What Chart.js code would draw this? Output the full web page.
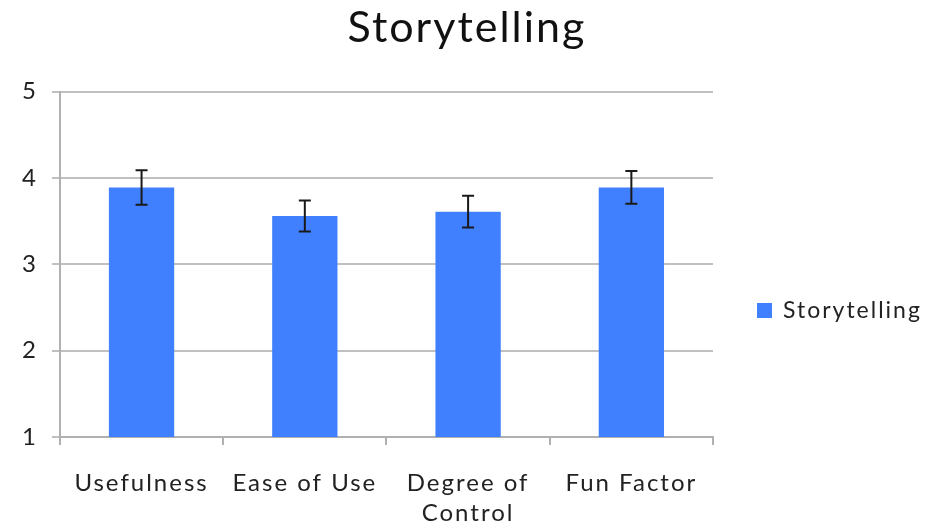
<!DOCTYPE html>
<html>
<head>
<meta charset="utf-8">
<script src="https://cdn.jsdelivr.net/npm/chart.js@4.4.0/dist/chart.umd.min.js"></script>
<style>
  html, body { margin: 0; padding: 0; background: #fff; }
  #chart { display: block; }
</style>
</head>
<body>
<canvas id="chart" width="926" height="527"></canvas>
<script>
const categories = ["Usefulness", "Ease of Use", ["Degree of", "Control"], "Fun Factor"];
const seriesName = "Storytelling";
const means = [3.89, 3.56, 3.61, 3.89];
const errors = [0.20, 0.18, 0.185, 0.19];
const yTicks = [1, 2, 3, 4, 5];

const barColor = "#4080fe";
const fontFamily = "Lato, 'Open Sans', sans-serif";

// the original text is wide and loosely spaced
const spacing = {
    id: "spacing",
    afterInit(chart) { chart.ctx.letterSpacing = "2px"; },
    beforeUpdate(chart) { chart.ctx.letterSpacing = "2px"; },
    beforeDraw(chart) { chart.ctx.letterSpacing = "2px"; }
};

// error bars drawn on top of each bar, using the y scale
const errorBars = {
    id: "errorBars",
    afterDatasetsDraw(chart) {
        const ctx = chart.ctx;
        const y = chart.scales.y;
        const meta = chart.getDatasetMeta(0);
        ctx.save();
        ctx.strokeStyle = "#1a1a1a";
        ctx.lineWidth = 2;
        meta.data.forEach((bar, i) => {
            const top = y.getPixelForValue(means[i] + errors[i]);
            const bot = y.getPixelForValue(means[i] - errors[i]);
            ctx.beginPath();
            ctx.moveTo(bar.x, top);
            ctx.lineTo(bar.x, bot);
            ctx.moveTo(bar.x - 6, top);
            ctx.lineTo(bar.x + 6, top);
            ctx.moveTo(bar.x - 6, bot);
            ctx.lineTo(bar.x + 6, bot);
            ctx.stroke();
        });
        ctx.restore();
    }
};

// legend sits to the right, a bit below the middle
const sideLegend = {
    id: "sideLegend",
    afterDraw(chart) {
        const ctx = chart.ctx;
        const cy = 310;
        ctx.save();
        ctx.fillStyle = barColor;
        ctx.fillRect(757, cy - 7, 15, 15);
        ctx.fillStyle = "#222";
        ctx.font = "23px " + fontFamily;
        ctx.textBaseline = "middle";
        ctx.fillText(seriesName, 783, cy + 1);
        ctx.restore();
    }
};

new Chart(document.getElementById("chart"), {
    type: "bar",
    data: {
        labels: categories,
        datasets: [{
            label: seriesName,
            data: means,
            backgroundColor: barColor,
            categoryPercentage: 1,
            barPercentage: 0.4
        }]
    },
    options: {
        responsive: false,
        animation: false,
        layout: {
            padding: { left: 8, right: 0, top: 0, bottom: -24 }
        },
        plugins: {
            legend: { display: false },
            tooltip: { enabled: false },
            title: {
                display: true,
                text: seriesName,
                color: "#111",
                font: { family: fontFamily, size: 43, weight: "normal" },
                padding: { top: 2, bottom: 38 }
            }
        },
        scales: {
            x: {
                grid: {
                    drawOnChartArea: false,
                    color: "#b0b0b0",
                    lineWidth: 2,
                    tickLength: 8
                },
                border: { color: "#b0b0b0", width: 2 },
                ticks: {
                    color: "#222",
                    padding: 23,
                    font: { family: fontFamily, size: 24, lineHeight: 1.25 }
                }
            },
            y: {
                min: 1,
                max: 5,
                afterBuildTicks: axis => { axis.ticks = yTicks.map(v => ({ value: v })); },
                grid: {
                    color: "#c0c0c0",
                    lineWidth: 2,
                    tickLength: 8
                },
                border: { color: "#b0b0b0", width: 2 },
                ticks: {
                    color: "#222",
                    padding: 14,
                    font: { family: fontFamily, size: 24 }
                }
            },
            // empty space on the right for the legend
            side: {
                position: "right",
                min: 0,
                max: 1,
                grid: { display: false },
                border: { display: false },
                ticks: { display: false },
                afterFit: scale => { scale.width = 213; }
            }
        }
    },
    plugins: [spacing, errorBars, sideLegend]
});
</script>
</body>
</html>
